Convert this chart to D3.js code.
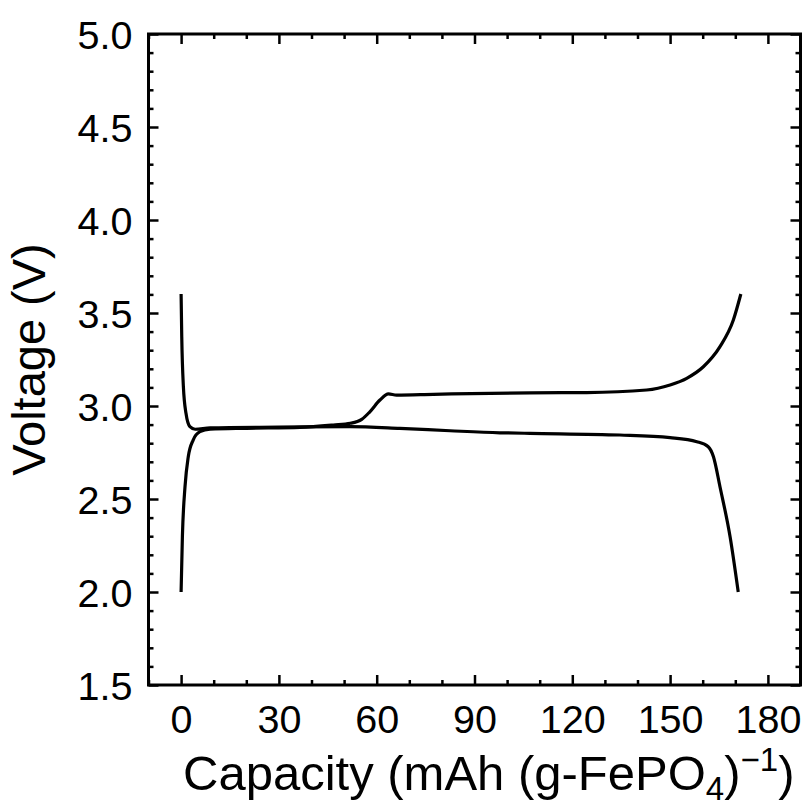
<!DOCTYPE html>
<html>
<head>
<meta charset="utf-8">
<script src="https://cdn.jsdelivr.net/npm/d3@7"></script>
<style>
  html, body { margin: 0; padding: 0; background: #fff; }
  svg { display: block; font-family: "Liberation Sans", Arial, Helvetica, sans-serif; }
</style>
</head>
<body>
<svg id="chart" width="810" height="809"></svg>
<script>
// ---- data ----
const chargeCapacity = [0, 0.4, 1.2, 2.2, 3.7, 5.8, 8.9, 20, 36.5, 46.7, 51.9, 55.4, 57.9, 61.0, 63.6, 66.1, 77.4, 107.0, 124.4, 142.8, 150.0, 155.1, 160.2, 165.3, 169.4, 171.7];
const chargeVoltage  = [2.00, 2.30, 2.566, 2.727, 2.817, 2.862, 2.875, 2.880, 2.885, 2.898, 2.907, 2.928, 2.969, 3.032, 3.065, 3.059, 3.063, 3.071, 3.072, 3.086, 3.113, 3.149, 3.211, 3.319, 3.462, 3.602];

const dischargeCapacity = [0, 0.2, 0.7, 1.5, 2.7, 4.3, 8.9, 30, 51.8, 67.1, 82.5, 97.8, 107.0, 134.6, 150.0, 158.2, 161.7, 163.3, 165.3, 168.4, 170.9];
const dischargeVoltage  = [3.602, 3.373, 3.104, 2.961, 2.889, 2.875, 2.882, 2.886, 2.889, 2.880, 2.867, 2.856, 2.853, 2.844, 2.830, 2.808, 2.781, 2.727, 2.566, 2.297, 2.00];

const xDomain = [-10, 190];
const yDomain = [1.5, 5.0];
const xMajorTicks = [0, 30, 60, 90, 120, 150, 180];
const xMinorTicks = [-10, 10, 20, 40, 50, 70, 80, 100, 110, 130, 140, 160, 170];
const yMajorTicks = [1.5, 2.0, 2.5, 3.0, 3.5, 4.0, 4.5, 5.0];
const yMinorTicks = d3.range(16, 50).map(v => v / 10).filter(v => Math.abs(v * 2 - Math.round(v * 2)) > 1e-6);
const xLabel = "Capacity";
const yLabel = "Voltage (V)";

// ---- layout ----
const L = 148.5, R = 800.5, T = 34, B = 685;
const svg = d3.select("#chart");
const x = d3.scaleLinear().domain(xDomain).range([L, R]);
const y = d3.scaleLinear().domain(yDomain).range([B, T]);

const majorLen = 10, minorLen = 5;
const tickW = 2.5;

// bottom axis (ticks inward)
const gB = svg.append("g").attr("transform", `translate(0,${B})`);
gB.call(d3.axisBottom(x).tickValues(xMajorTicks).tickSize(-majorLen).tickPadding(majorLen + 10).tickFormat(d3.format("d")));
gB.append("g").call(d3.axisBottom(x).tickValues(xMinorTicks).tickSize(-minorLen).tickFormat(""));
// top axis
const gT = svg.append("g").attr("transform", `translate(0,${T})`);
gT.call(d3.axisTop(x).tickValues(xMajorTicks).tickSize(-majorLen).tickFormat(""));
gT.append("g").call(d3.axisTop(x).tickValues(xMinorTicks).tickSize(-minorLen).tickFormat(""));
// left axis
const gL = svg.append("g").attr("transform", `translate(${L},0)`);
gL.call(d3.axisLeft(y).tickValues(yMajorTicks).tickSize(-majorLen).tickPadding(majorLen + 6).tickFormat(d3.format(".1f")));
gL.append("g").call(d3.axisLeft(y).tickValues(yMinorTicks).tickSize(-minorLen).tickFormat(""));
// right axis
const gR = svg.append("g").attr("transform", `translate(${R},0)`);
gR.call(d3.axisRight(y).tickValues(yMajorTicks).tickSize(-majorLen).tickFormat(""));
gR.append("g").call(d3.axisRight(y).tickValues(yMinorTicks).tickSize(-minorLen).tickFormat(""));

svg.selectAll(".domain").remove();
svg.selectAll(".tick line").attr("stroke", "#000").attr("stroke-width", tickW);
svg.selectAll(".tick text").attr("fill", "#000").style("font-size", "39.5px").style("font-family", "'Liberation Sans', Arial, sans-serif");
gL.selectAll(".tick text").attr("dy", "0.36em");
gB.selectAll(".tick text").attr("dy", "0.71em");

// frame
svg.append("rect").attr("x", L).attr("y", T).attr("width", R - L).attr("height", B - T)
  .attr("fill", "none").attr("stroke", "#000").attr("stroke-width", 3);

// curves
const line = d3.line().x(d => x(d[0])).y(d => y(d[1])).curve(d3.curveMonotoneX);
const charge = chargeCapacity.map((c, i) => [c, chargeVoltage[i]]);
const discharge = dischargeCapacity.map((c, i) => [c, dischargeVoltage[i]]);
[charge, discharge].forEach(data => {
  svg.append("path").datum(data).attr("d", line)
    .attr("fill", "none").attr("stroke", "#000").attr("stroke-width", 3.2)
    .attr("stroke-linejoin", "round").attr("stroke-linecap", "butt");
});

// axis titles
const xt = svg.append("text").attr("x", 183).attr("y", 790).attr("text-anchor", "start")
  .style("font-size", "49px").attr("fill", "#000");
xt.append("tspan").text(xLabel + " (mAh (g-FePO");
xt.append("tspan").attr("dy", 10).style("font-size", "33px").text("4");
xt.append("tspan").attr("dy", -10).text(")");
xt.append("tspan").attr("dy", -19).style("font-size", "33px").text("\u22121");
xt.append("tspan").attr("dy", 19).text(")");

svg.append("text").attr("transform", `translate(45,${(T + B) / 2}) rotate(-90)`)
  .attr("text-anchor", "middle").style("font-size", "47px").attr("fill", "#000").text(yLabel);
</script>
</body>
</html>
